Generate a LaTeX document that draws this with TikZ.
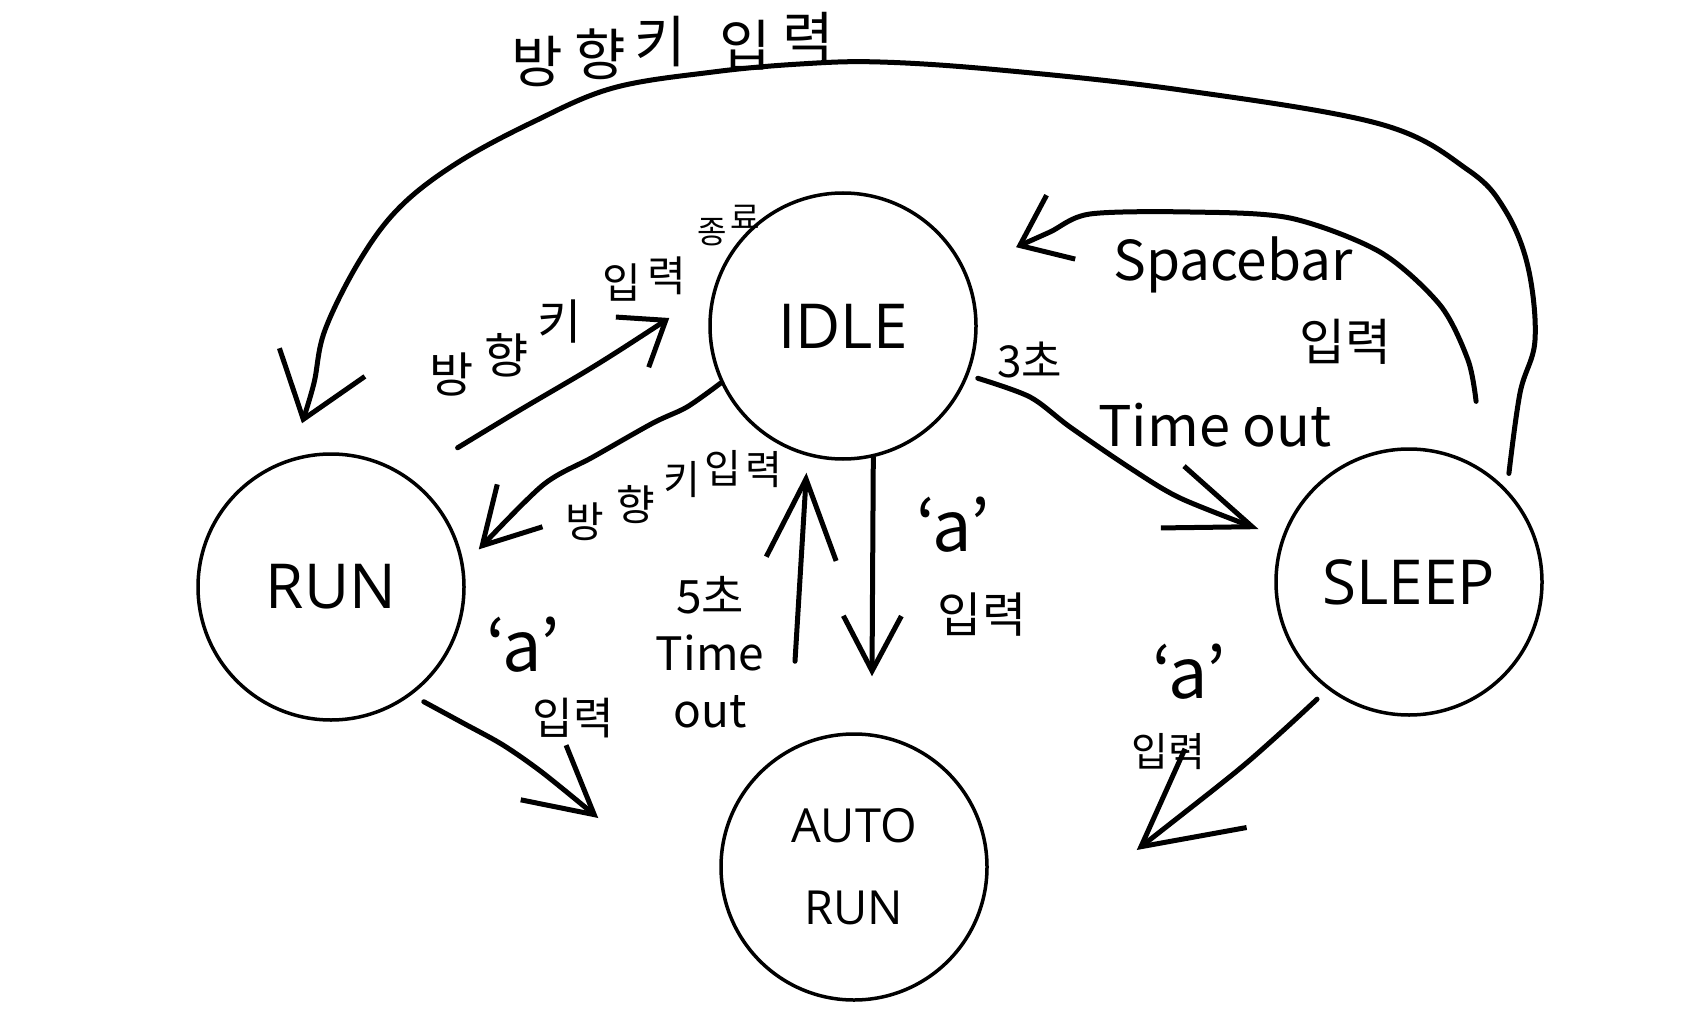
\documentclass[tikz,border=0pt]{standalone}
\usepackage{fontspec}
\setmainfont{Open Sans}
\newfontfamily\kr{Noto Sans CJK KR}
\usetikzlibrary{arrows.meta}
\begin{document}
\begin{tikzpicture}[x=1pt,y=-1pt,
  state/.style={circle, draw, line width=3.5pt, minimum size=266pt, inner sep=0pt, font=\fontsize{62}{62}\selectfont},
  hand/.style={line width=5pt, line cap=round, line join=round},
  hd/.style 2 args={arrows={-{Straight Barb[length=#1pt,width=#2pt]}}},
  lbl/.style={font=\kr\fontsize{#1}{#1}\selectfont, inner sep=0pt},
]
\fill[white] (0,0) rectangle (1683,1024);
\useasboundingbox (0,0) rectangle (1683,1024);

% states
\node[state] (idle) at (843,326) {IDLE};
\node[state] (run) at (331,587) {RUN};
\node[state] (sleep) at (1409,582) {SLEEP};
\node[state, align=center, font=\fontsize{47}{82}\selectfont] (auto) at (854,867) {AUTO\\RUN};

% SLEEP -> RUN (big top arc)
\draw[hand, hd={60}{90}] plot[smooth, tension=0.6] coordinates {([shift={(8,-10)}]sleep.47) (1520,393) (1535,340) (1528,267) (1505,210) (1468,170) (1380,124) (1181,90) (1000,70) (880,62) (800,64) (713,72) (613,88) (533,122) (457,163) (400,207) (360,260) (325,330) (314,383) ([shift={(-29,-29)}]run.north)};
\node[lbl=56] (t1a) at (537,62) {방};
\node[lbl=56] (t1b) at (600,54) {향};
\node[lbl=56] (t1c) at (660,42) {키};
\node[lbl=56] (t1d) at (745,45) {입};
\node[lbl=56] (t1e) at (808,38) {력};

% RUN -> IDLE
\draw[hand, hd={40}{60}] plot[smooth] coordinates {([shift={(40,-36)}]run.50) (520,410) (583,373) (620,350) ([shift={(-39,-8)}]idle.west)};
\node[lbl=48] (t2a) at (452,374) {방};
\node[lbl=48] (t2b) at (507,355) {향};
\node[lbl=48] (t2c) at (560,322) {키};
\node[lbl=42] (t2d) at (622,283) {입};
\node[lbl=42] (t2e) at (667,276) {력};
\node[lbl=32] (t2f) at (712,232) {종};
\node[lbl=32] (t2g) at (745,217) {료};

% IDLE -> RUN
\draw[hand, hd={55}{62}] plot[smooth] coordinates {(idle.205) (687,407) (653,423) (593,457) (543,485) ([shift={(17,-5)}]run.14)};
\node[lbl=42] (t3a) at (585,522) {방};
\node[lbl=42] (t3b) at (636,505) {향};
\node[lbl=40] (t3c) at (682,480) {키};
\node[lbl=40] (t3d) at (723,468) {입};
\node[lbl=40] (t3e) at (764,470) {력};

% AUTO -> IDLE
\draw[hand, hd={80}{70}] ([shift={(-59,-71)}]auto.north) -- ([shift={(-4,16)}]idle.256);
\node[lbl=46, align=center, font=\kr\fontsize{46}{57}\selectfont] (t4) at (710,652) {5초\\Time\\out};

% IDLE -> AUTO
\draw[hand, hd={55}{58}] (idle.283) -- ([shift={(18,-56)}]auto.north);
\node[lbl=70] (t5a) at (953,525) {‘a’};
\node[lbl=48] (t5b) at (982,615) {입력};

% RUN -> AUTO
\draw[hand, hd={66}{71}] plot[smooth] coordinates {([shift={(8,10)}]run.309) (463,723) (503,745) (543,773) ([shift={(-121,-49)}]auto.west)};
\node[lbl=70] (t6a) at (523,645) {‘a’};
\node[lbl=44] (t6b) at (573,718) {입력};

% SLEEP -> AUTO
\draw[hand, hd={95}{100}] plot[smooth] coordinates {([shift={(-9,11)}]sleep.232) (1287,727) (1250,760) (1217,787) ([shift={(148,-17)}]auto.east)};
\node[lbl=70] (t7a) at (1189,672) {‘a’};
\node[lbl=40] (t7b) at (1168,752) {입력};

% IDLE -> SLEEP
\draw[hand, hd={85}{66}] plot[smooth] coordinates {([shift={(9,4)}]idle.339) (1030,397) (1070,427) (1130,468) (1180,498) ([shift={(-23,-9)}]sleep.161)};
\node[lbl=44] (t8a) at (1030,360) {3초};
\node[lbl=56] (t8b) at (1215,425) {Time out};

% SLEEP -> IDLE
\draw[hand, hd={45}{70}] plot[smooth] coordinates {([shift={(21,-54)}]sleep.70) (1468,360) (1440,305) (1380,252) (1290,218) (1190,212) (1090,214) (1050,232) ([shift={(50,-24)}]idle.24)};
\node[lbl=55] (t9a) at (1233,265) {Spacebar};
\node[lbl=50] (t9b) at (1345,342) {입력};
\end{tikzpicture}
\end{document}
